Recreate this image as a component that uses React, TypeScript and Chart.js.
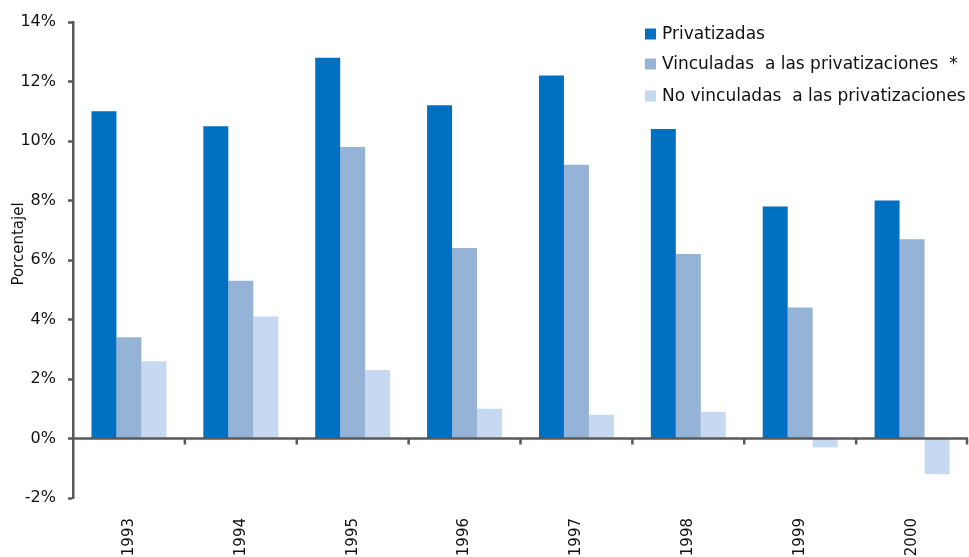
import { useEffect, useRef } from "react";
import { Chart, registerables } from "chart.js";

Chart.register(...registerables);

// Years on the category axis
const years = ["1993", "1994", "1995", "1996", "1997", "1998", "1999", "2000"];

// Percentages per group of companies
const privatizadas = [11.0, 10.5, 12.8, 11.2, 12.2, 10.4, 7.8, 8.0];
const vinculadas = [3.4, 5.3, 9.8, 6.4, 9.2, 6.2, 4.4, 6.7];
const noVinculadas = [2.6, 4.1, 2.3, 1.0, 0.8, 0.9, -0.3, -1.2];

const seriesNames = [
  "Privatizadas",
  "Vinculadas  a las privatizaciones  *",
  "No vinculadas  a las privatizaciones",
];
const seriesColors = ["#0070C0", "#95B3D7", "#C6D9F1"];

const yMin = -2;
const yMax = 14;
const yStep = 2;
const yTitle = "Porcentajel";

const FONT = "'DejaVu Sans', sans-serif";
const AXIS_COLOR = "#595959";

// Zero line drawn over the bars, with tick marks at category boundaries
const zeroAxisPlugin = {
  id: "zeroAxis",
  afterDatasetsDraw(chart: any) {
    const { ctx, chartArea, scales } = chart;
    const y0 = scales.y.getPixelForValue(0);
    const xs = scales.x;
    ctx.save();
    ctx.strokeStyle = AXIS_COLOR;
    ctx.lineWidth = 2.5;
    ctx.beginPath();
    ctx.moveTo(chartArea.left, y0);
    ctx.lineTo(chartArea.right, y0);
    ctx.stroke();
    const n = years.length;
    const step = (chartArea.right - chartArea.left) / n;
    for (let i = 1; i <= n; i++) {
      const x = Math.min(xs.getPixelForValue(i - 1) + step / 2, chartArea.right - 1);
      ctx.beginPath();
      ctx.moveTo(x, y0);
      ctx.lineTo(x, y0 + 6);
      ctx.stroke();
    }
    ctx.restore();
  },
};

// Legend in the upper right of the plot and the rotated axis title
const decorPlugin = {
  id: "decor",
  afterDraw(chart: any) {
    const { ctx, chartArea } = chart;
    ctx.save();
    const boxX = chartArea.right - 323;
    const rowY = [chartArea.top + 12, chartArea.top + 42, chartArea.top + 74];
    ctx.font = `17px ${FONT}`;
    ctx.textBaseline = "middle";
    ctx.textAlign = "left";
    seriesNames.forEach((name, i) => {
      ctx.fillStyle = seriesColors[i];
      ctx.fillRect(boxX, rowY[i] - 5.5, 11, 11);
      ctx.fillStyle = "#111111";
      ctx.fillText(name, boxX + 17, rowY[i] + 1);
    });
    ctx.translate(19, 244);
    ctx.rotate(-Math.PI / 2);
    ctx.font = `15px ${FONT}`;
    ctx.textAlign = "center";
    ctx.fillStyle = "#111111";
    ctx.fillText(yTitle, 0, 0);
    ctx.restore();
  },
};

export default function App() {
  const canvasRef = useRef<HTMLCanvasElement>(null);

  useEffect(() => {
    if (!canvasRef.current) return;
    const chart = new Chart(canvasRef.current, {
      type: "bar",
      data: {
        labels: years,
        datasets: [privatizadas, vinculadas, noVinculadas].map((data, i) => ({
          label: seriesNames[i],
          data,
          backgroundColor: seriesColors[i],
          borderWidth: 0,
          barPercentage: 1,
          categoryPercentage: 0.67,
        })),
      },
      options: {
        animation: false,
        responsive: false,
        layout: { padding: { top: 22, right: 1, left: 0, bottom: 0 } },
        plugins: {
          legend: { display: false },
          tooltip: { enabled: false },
        },
        scales: {
          x: {
            grid: { display: false, drawTicks: false },
            border: { display: false },
            ticks: {
              autoSkip: false,
              minRotation: 90,
              maxRotation: 90,
              padding: 20,
              color: "#111111",
              font: { family: FONT, size: 15 },
            },
            afterFit: (s: any) => {
              s.height = 59;
            },
          },
          y: {
            min: yMin,
            max: yMax,
            grid: {
              drawOnChartArea: false,
              drawTicks: true,
              tickLength: 5,
              tickColor: AXIS_COLOR,
              tickWidth: 2.5,
            },
            border: { display: true, color: AXIS_COLOR, width: 2.5 },
            ticks: {
              stepSize: yStep,
              padding: 12,
              color: "#111111",
              font: { family: FONT, size: 16 },
              callback: (v: any) => `${v}%`,
            },
            afterFit: (s: any) => {
              s.width = 73;
            },
          },
        },
      },
      plugins: [zeroAxisPlugin, decorPlugin],
    });
    return () => chart.destroy();
  }, []);

  return (
    <div style={{ position: "fixed", left: 0, top: 0, width: 969, height: 557, background: "#fff" }}>
      <canvas ref={canvasRef} width={969} height={557} style={{ display: "block" }} />
    </div>
  );
}
